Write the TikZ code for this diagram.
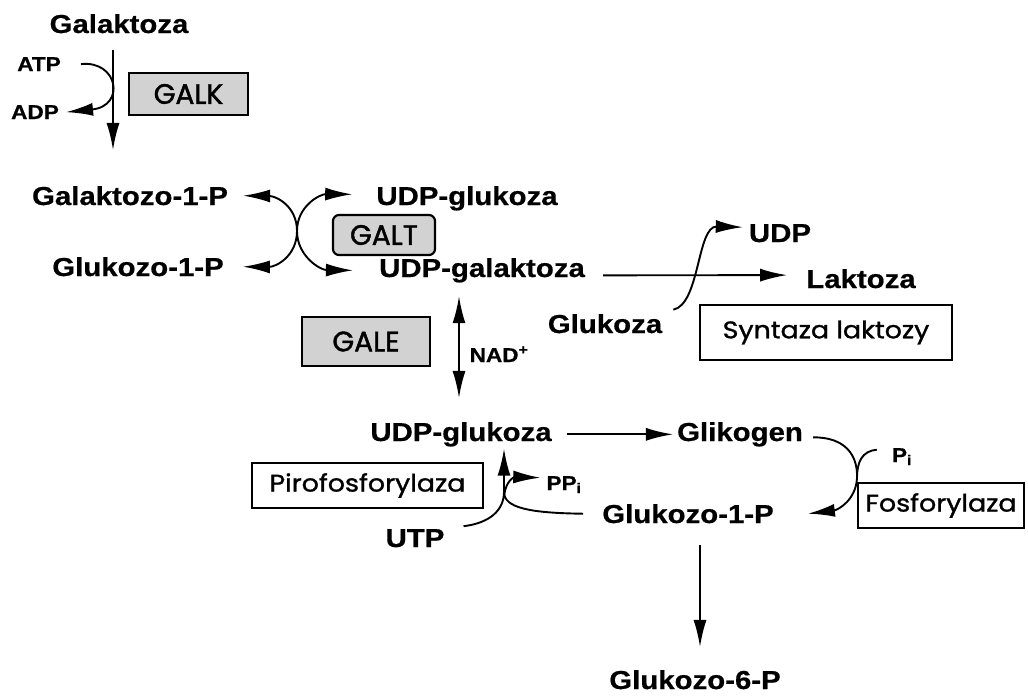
\documentclass[tikz,border=0pt]{standalone}
\usepackage{fontspec}
\setmainfont[FakeStretch=1.13,BoldFeatures={FakeBold=0.6}]{Liberation Sans}
\newfontfamily\enzfont[FakeBold=1.5]{Poppins}
\newfontfamily\enzwidefont[FakeStretch=1.12,FakeBold=1.2]{Poppins}
\usepackage{tikz}
\usetikzlibrary{positioning,arrows.meta,calc}
\tikzset{
    metab/.style = {
        anchor=base,
        inner sep=2pt,
        font=\fontsize{26}{30}\selectfont\bfseries
    },
    small/.style = {
        anchor=base,
        inner sep=2pt,
        font=\fontsize{20}{24}\selectfont\bfseries
    },
    grayenz/.style = {
        draw,
        shape=rectangle,
        fill=gray!35,
        line width=2.2pt,
        font=\fontsize{28}{32}\selectfont\enzfont
    },
    whiteenz/.style = {
        draw,
        shape=rectangle,
        fill=white,
        line width=2.2pt,
        font=\fontsize{24}{28}\selectfont\enzwidefont
    },
    conn/.style = {
        draw,
        line width=1.9pt
    },
    >={Latex[length=27pt,width=13pt]},
}
\begin{document}
\begin{tikzpicture}[x=1pt,y=-1pt]
                \useasboundingbox (0,0) rectangle (1028,697);

                \node[metab] (galaktoza) at (119,33) {Galaktoza};
                \node[small] (atp) at (39,71) {ATP};
                \node[small] (adp) at (35,119) {ADP};
                \node[grayenz, minimum width=119pt, minimum height=42pt] (galk) at (188.5,94) {GALK};

                \node[metab] (gal1p) at (130,205) {Galaktozo-1-P};
                \node[metab] (glc1pa) at (138,276) {Glukozo-1-P};
                \node[metab] (udpglca) at (467,205) {UDP-glukoza};
                \node[metab] (udpgal) at (482,277) {UDP-galaktoza};
                \node[grayenz, rounded corners=6pt, minimum width=102pt, minimum height=40pt] (galt) at (384,235) {GALT};
                \coordinate (galtx) at (297,231);

                \node[metab] (laktoza) at (861,288) {Laktoza};
                \node[metab] (udp) at (780,242) {UDP};
                \node[metab] (glukoza) at (605,333) {Glukoza};
                \node[whiteenz, minimum width=252pt, minimum height=55pt] (syntaza) at (826,332.5) {Syntaza laktozy};

                \node[grayenz, minimum width=128pt, minimum height=49pt] (gale) at (366,341.5) {GALE};
                \node[small] (nad) at (499,362) {NAD\textsuperscript{+}};

                \node[metab] (udpglcb) at (461,441) {UDP-glukoza};
                \node[metab] (glikogen) at (740,441) {Glikogen};
                \node[small] (pi) at (902,462) {P\textsubscript{i}};
                \node[metab] (glc1pb) at (688,523) {Glukozo-1-P};
                \node[whiteenz, minimum width=166pt, minimum height=45pt] (fosfo) at (941,505.5) {Fosforylaza};
                \coordinate (fosj) at (857,478);
                \node[whiteenz, minimum width=231pt, minimum height=45pt] (piro) at (367.5,485.5) {Pirofosforylaza};
                \node[small] (ppi) at (564,490) {PP\textsubscript{i}};
                \node[metab] (utp) at (415,547) {UTP};
                \coordinate (piroj) at (504,492);
                \node[metab] (glc6p) at (695,689) {Glukozo-6-P};

                % GALK
                \path[conn, ->] ([xshift=-6pt,yshift=-15pt]galaktoza.south) -- ([xshift=-17pt,yshift=34pt]gal1p.north);
                \path[conn, ->] ([xshift=18pt]atp.east) .. controls (118,60) and (126,106) .. ([xshift=5pt]adp.east);

                % GALT
                \path[conn, <->] ([xshift=13pt]gal1p.east) .. controls (276,196) and (297,206) .. (galtx)
                    .. controls (297,256) and (320,270) .. ([xshift=-24pt]udpgal.west);
                \path[conn, <->] ([xshift=17pt]glc1pa.east) .. controls (276,267) and (297,256) .. (galtx)
                    .. controls (297,206) and (320,194) .. ([xshift=-22pt,yshift=4pt]udpglca.west);

                % syntaza laktozy
                \path[conn, ->] ([xshift=16pt,yshift=-5pt]udpgal.east) -- ([xshift=-17pt,yshift=3.6pt]laktoza.west);
                \path[conn, ->] ([xshift=9pt,yshift=14pt]glukoza.east) .. controls (700,304) and (697,226) .. ([xshift=-4pt,yshift=6pt]udp.west);

                % GALE
                \path[conn, <->] ([xshift=-23pt,yshift=-11.5pt]udpgal.south) -- ([xshift=-2pt,yshift=22pt]udpglcb.north);

                \path[conn, ->] ([xshift=13pt]udpglcb.east) -- ([xshift=-2pt]glikogen.west);

                % fosforylaza
                \path[conn] ([xshift=8pt,yshift=-3pt]glikogen.east) .. controls (845,437) and (858,455) .. (fosj);
                \path[conn, ->] (fosj) .. controls (856,500) and (838,510) .. ([xshift=32pt]glc1pb.east);
                \path[conn] ([xshift=-13pt,yshift=7pt]pi.west) .. controls (862,451) and (857,462) .. (fosj);

                % pirofosforylaza
                \path[conn, ->] ([xshift=-17pt]glc1pb.west) .. controls (530,513) and (504,508) .. (piroj) -- ([xshift=43pt]udpglcb.south);
                \path[conn] ([xshift=17pt,yshift=12pt]utp.east) .. controls (490,523) and (504,510) .. (piroj);
                \path[conn, ->] ([yshift=-6pt]piroj) .. controls (505,480) and (515,477) .. ([xshift=-4pt,yshift=7pt]ppi.west);

                \path[conn, ->] ([xshift=12pt,yshift=-20pt]glc1pb.south) -- ([xshift=5pt,yshift=21pt]glc6p.north);
\end{tikzpicture}
\end{document}
